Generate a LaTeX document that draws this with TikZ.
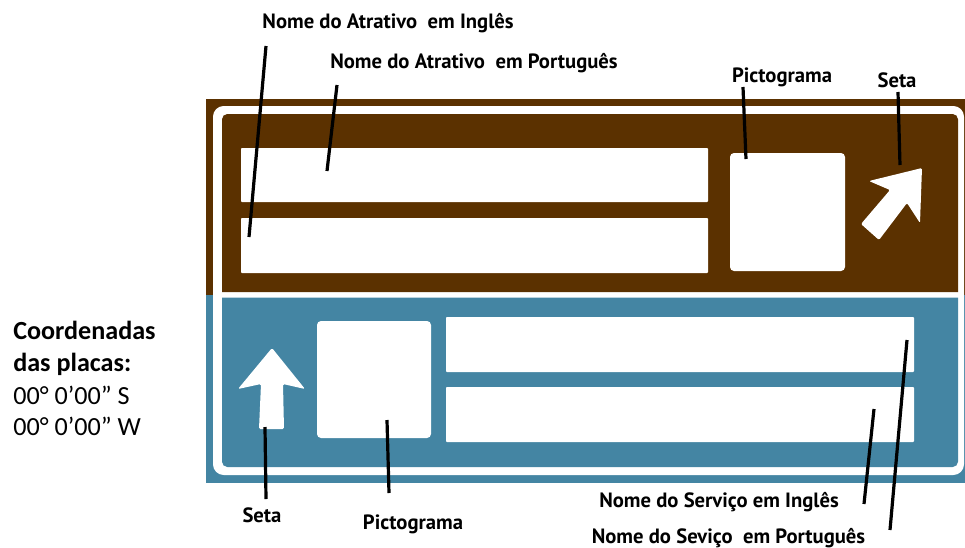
\documentclass[tikz,border=0pt]{standalone}
\usepackage{fontspec}
\setmainfont{Carlito}
\newfontfamily\labelfont{PT Sans}
\definecolor{signbrown}{HTML}{5B3100}
\definecolor{signblue}{HTML}{4485A3}
\begin{document}
\begin{tikzpicture}[x=0.75pt,y=-0.75pt,
  lbl/.style={font=\labelfont\bfseries\fontsize{15.5}{18}\selectfont, inner sep=0pt, anchor=base},
  leader/.style={line width=2.4pt, black},
  coordtxt/.style={font=\fontsize{19.6}{23}\selectfont, inner sep=0pt, anchor=base west},
  whitebox/.style={fill=white, rounded corners=0.6pt},
  picto/.style={fill=white, rounded corners=3pt},
  arrowshape/.style={fill=white, rounded corners=1pt},
]
\useasboundingbox (0,0) rectangle (965,547);
\fill[white] (0,0) rectangle (965,547);
% sign background
\fill[signbrown] (206,99) rectangle (970,294.5);
\fill[signblue] (206,294.5) rectangle (970,483);
\fill[white, rounded corners=8pt] (213,106) rectangle (964,475);
\fill[signbrown] (222,292) [rounded corners=4pt] -- (222,114) -- (958,114) [sharp corners] -- (958,292) -- cycle;
\fill[signblue] (958,297.5) -- (222,297.5) [rounded corners=4pt] -- (222,467) -- (958,467) [sharp corners] -- cycle;
% upper panel
\fill[whitebox] (241,148) rectangle (708,202);
\fill[whitebox] (241,218) rectangle (708,273);
\fill[picto] (730,153) rectangle (845,271);
\fill[arrowshape] (922,168) -- (869,181) -- (890,190) -- (861,224) -- (879,240) -- (907,203) -- (920,223) -- cycle;
% lower panel
\fill[whitebox] (446,317) rectangle (914,372);
\fill[whitebox] (446,387) rectangle (914,442);
\fill[picto] (317,321) rectangle (431,438);
\fill[arrowshape] (272,348) -- (238,389) -- (261,384) -- (259,429) -- (284,429) -- (283,384) -- (305,389) -- cycle;
% labels
\node[lbl] (atrEn) at (388,28) {Nome do Atrativo~ em Inglês};
\node[lbl] (atrPt) at (474,68) {Nome do Atrativo~ em Português};
\node[lbl] (picUp) at (782,82) {Pictograma};
\node[lbl] (setaUp) at (897,87) {Seta};
\node[lbl] (setaLo) at (262,522) {Seta};
\node[lbl] (picLo) at (413,529) {Pictograma};
\node[lbl] (servEn) at (719,507) {Nome do Serviço em Inglês};
\node[lbl] (servPt) at (728.5,543) {Nome do Seviço~ em Português};
% coordinates text
\node[coordtxt] (c1) at (13,339) {\bfseries Coordenadas};
\node[coordtxt] (c2) at (13,371) {\bfseries das placas:};
\node[coordtxt] (c3) at (13,404) {00° 0’00” S};
\node[coordtxt] (c4) at (13,435) {00° 0’00” W};
% leader end points
\coordinate (a1) at (266,46); \coordinate (a2) at (249,237);
\coordinate (b1) at (337,85); \coordinate (b2) at (327,171);
\coordinate (p1) at (743,87); \coordinate (p2) at (746,159);
\coordinate (s1) at (898,92); \coordinate (s2) at (900,165);
\coordinate (t1) at (265,427); \coordinate (t2) at (266,499);
\coordinate (q1) at (387,420); \coordinate (q2) at (389,493);
\coordinate (e1) at (874,409); \coordinate (e2) at (864,504);
\coordinate (f1) at (907,340); \coordinate (f2) at (890,530);
\draw[leader] (a1) -- (a2);
\draw[leader] (b1) -- (b2);
\draw[leader] (p1) -- (p2);
\draw[leader] (s1) -- (s2);
\draw[leader] (t1) -- (t2);
\draw[leader] (q1) -- (q2);
\draw[leader] (e1) -- (e2);
\draw[leader] (f1) -- (f2);
\end{tikzpicture}
\end{document}
